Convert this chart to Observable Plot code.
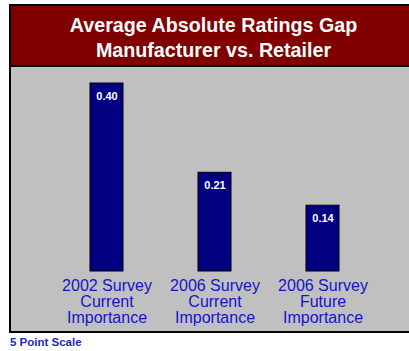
<!DOCTYPE html>
<html>
<head>
<meta charset="utf-8">
<script src="https://cdn.jsdelivr.net/npm/d3@7"></script>
<script src="https://cdn.jsdelivr.net/npm/@observablehq/plot@0.6"></script>
<style>
  html, body { margin: 0; padding: 0; background: #fff; overflow: hidden; width: 409px; height: 351px; }
  body { font-family: "Liberation Sans", Arial, sans-serif; position: relative; }
  #frame { position: absolute; left: 9px; top: 4px; width: 409px; border: 2px solid #000; box-sizing: border-box; background: #c0c0c0; }
  #title { height: 61px; box-sizing: border-box; padding-top: 7px; background: #800000; border-bottom: 2px solid #000; color: #fff; font-weight: bold; font-size: 19.7px; line-height: 25px; text-align: center; }
  #chart { height: 264px; }
  #chart svg { display: block; }
  #footer { position: absolute; left: 10px; top: 336px; font-size: 11.5px; line-height: 13px; font-weight: bold; color: #1c2cb8; }
</style>
</head>
<body>
<div id="frame">
  <div id="title">Average Absolute Ratings Gap<br>Manufacturer vs. Retailer</div>
  <div id="chart"></div>
</div>
<div id="footer">5 Point Scale</div>
<script>
const categories = ["2002 Survey\nCurrent\nImportance", "2006 Survey\nCurrent\nImportance", "2006 Survey\nFuture\nImportance"];
const values = [0.40, 0.21, 0.14];
const valueLabels = ["0.40", "0.21", "0.14"];

const data = categories.map((c, i) => ({category: c, value: values[i], label: valueLabels[i]}));

const chart = Plot.plot({
  width: 405,
  height: 264,
  marginTop: 16,
  marginBottom: 60,
  marginLeft: 3,
  marginRight: 0,
  style: {background: "transparent", fontFamily: "Liberation Sans, Arial, sans-serif"},
  x: {domain: categories, padding: 0.6934, axis: null},
  y: {domain: [0, 0.4], axis: null},
  marks: [
    Plot.barY(data, {x: "category", y: "value", fill: "#000080", stroke: "#000", strokeWidth: 1}),
    Plot.text(data, {x: "category", y: "value", text: "label", lineAnchor: "bottom", dy: 16, fill: "#fff", fontWeight: "bold", fontSize: 11}),
    Plot.text(data, {x: "category", y: () => 0, text: "category", lineAnchor: "top", dy: 8, fill: "#1414c8", fontSize: 16, lineHeight: 1})
  ]
});
document.getElementById("chart").appendChild(chart);
</script>
</body>
</html>
